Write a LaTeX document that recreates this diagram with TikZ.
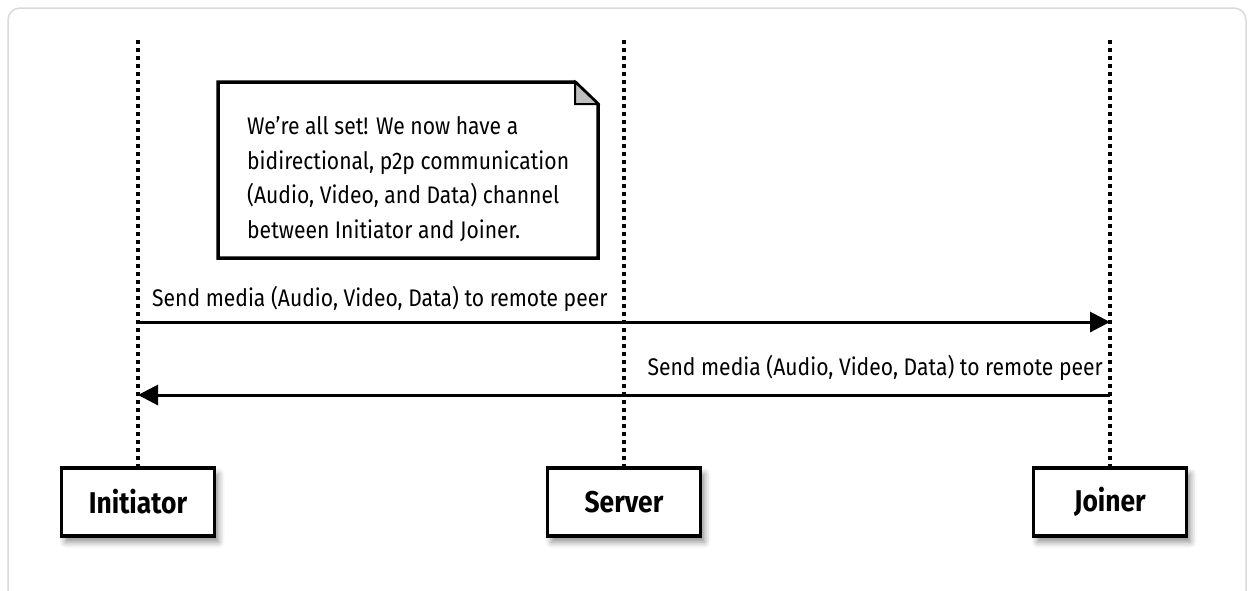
\documentclass[tikz,border=0pt]{standalone}
\usepackage{fontspec}
\setmainfont[FakeStretch=0.88]{Fira Sans}
\usetikzlibrary{arrows.meta,shadows.blur}
\tikzset{
  actor/.style={draw, line width=3.5pt, fill=white, minimum width=153pt, minimum height=68pt, inner sep=0pt,
    blur shadow={shadow xshift=4pt, shadow yshift=-6pt, shadow blur radius=6pt, shadow opacity=45},
    font=\bfseries\fontsize{30}{36}\selectfont},
  lifeline/.style={line width=4pt, dash pattern=on 3.5pt off 4.5pt},
  msg/.style={line width=3pt, -{Triangle[length=20pt,width=20pt]}},
  lbl/.style={inner sep=0pt, font=\fontsize{24}{28}\selectfont},
  notetext/.style={inner sep=0pt, align=left, font=\fontsize{24}{34.4}\selectfont},
}
\begin{document}
\begin{tikzpicture}[x=1pt,y=-1pt]
\useasboundingbox (0,0) rectangle (1250,590);
\begin{scope}
\clip (0,0) rectangle (1250,590);
\draw[black!15, line width=1.5pt, rounded corners=12pt] (8,8) rectangle (1246,660);
\end{scope}
% actors
\node[actor] (ini) at (138,502) {Initiator};
\node[actor] (srv) at (624,502) {Server};
\node[actor] (joi) at (1110,502) {Joiner};
% lifelines
\coordinate (iniTop) at (138,40);
\coordinate (srvTop) at (624,40);
\coordinate (joiTop) at (1110,40);
\draw[lifeline] (iniTop) -- (ini.north);
\draw[lifeline] (srvTop) -- (srv.north);
\draw[lifeline] (joiTop) -- (joi.north);
% note
\coordinate (nNW) at (218,82);
\coordinate (nFold) at (575,82);
\coordinate (nFoldIn) at (575,104);
\coordinate (nFoldR) at (598,104);
\coordinate (nSE) at (598,258);
\coordinate (nSW) at (218,258);
\draw[line width=3.5pt, fill=white, line join=miter] (nNW) -- (nFold) -- (nFoldR) -- (nSE) -- (nSW) -- cycle;
\draw[line width=2pt, fill=black!25, line join=miter] (nFold) -- (nFoldIn) -- (nFoldR) -- cycle;
\node[notetext, anchor=base west] (note) at (247,238) {We’re all set! We now have a\\bidirectional, p2p communication\\(Audio, Video, and Data) channel\\between Initiator and Joiner.};
% messages
\coordinate (m1s) at (138,322);
\coordinate (m1e) at (1110,322);
\coordinate (m2s) at (1110,395);
\coordinate (m2e) at (138,395);
\draw[msg] (m1s) -- (m1e);
\draw[msg] (m2s) -- (m2e);
\node[lbl, anchor=base west] (l1) at (152,306) {Send media (Audio, Video, Data) to remote peer};
\node[lbl, anchor=base east] (l2) at (1103,375) {Send media (Audio, Video, Data) to remote peer};
\end{tikzpicture}
\end{document}
